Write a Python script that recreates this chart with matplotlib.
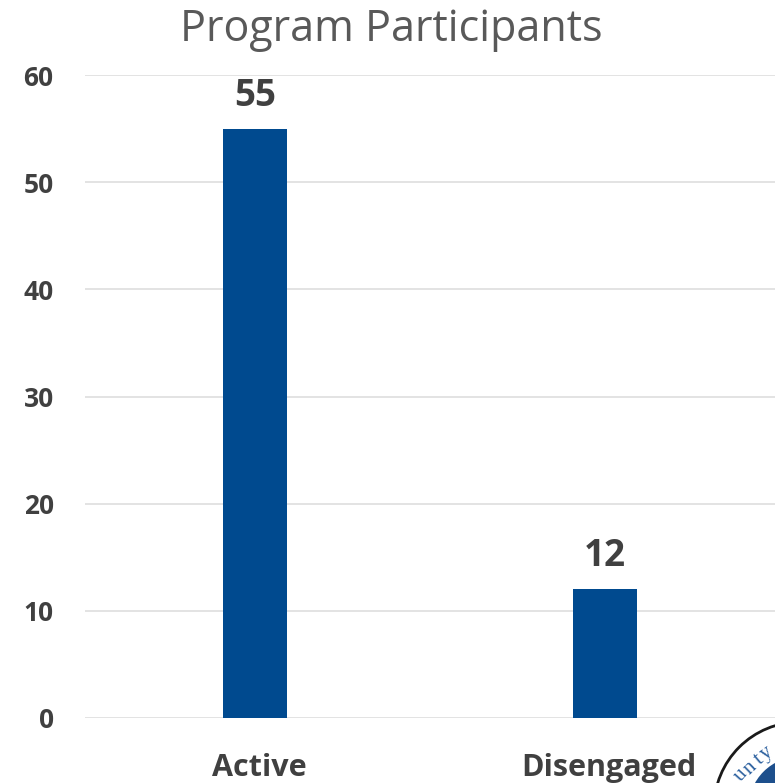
import matplotlib
matplotlib.use("Agg")
import matplotlib.pyplot as plt
from matplotlib.patches import Circle
from matplotlib.transforms import ScaledTranslation

# data
categories = ["Active", "Disengaged"]
values = [55, 12]
y_ticks = [0, 10, 20, 30, 40, 50, 60]

plt.rcParams['font.family'] = ['Open Sans', 'DejaVu Sans']

W, H = 775, 783
fig = plt.figure(figsize=(W / 100, H / 100), dpi=100)

# plot area in pixels: left 85, right 775, y=60 at 75, y=0 at 718
ax = fig.add_axes([85 / W, 1 - 718 / H, 690 / W, 643 / H])
ax.set_xlim(-0.486, 1.486)
ax.set_ylim(0, 60)

ax.yaxis.grid(True, color="#e0e0e0", linewidth=1.3)
ax.set_axisbelow(True)
ax.bar(range(len(categories)), values, width=0.183, color="#004a8f")

for i, v in enumerate(values):
    ax.text(i, v + 1.3, str(v), ha="center", va="bottom", fontsize=26.5,
            fontweight="bold", color="#404040")

for s in ax.spines.values():
    s.set_visible(False)
ax.set_yticks(y_ticks)
ax.set_xticks(range(len(categories)))
ax.set_xticklabels(categories, fontsize=22, fontweight="bold", color="#404040")
ax.tick_params(axis="both", length=0)
ax.tick_params(axis="x", pad=25)
ax.tick_params(axis="y", pad=22.5)
for t in ax.get_yticklabels():
    t.set_fontsize(19)
    t.set_fontweight("bold")
    t.set_color("#404040")
# category labels sit a little right of the bars
for t in ax.get_xticklabels():
    t.set_transform(t.get_transform() + ScaledTranslation(0.04, 0, fig.dpi_scale_trans))

fig.text(391 / W, 1 - 30 / H, "Program Participants", ha="center", va="center",
         fontsize=31, color="#595959")

# seal in the corner, clipped by the figure edge
seal = fig.add_axes([0, 0, 1, 1], facecolor="none")
seal.set_xlim(0, W)
seal.set_ylim(H, 0)
seal.axis("off")
seal.add_patch(Circle((800, 808), 86, facecolor="white", edgecolor="#1a1a1a", linewidth=2))
seal.add_patch(Circle((800, 808), 51.5, facecolor="#1d4f8c", edgecolor="none"))
for letter, x, y, rot in [("u", 741, 775, 48), ("n", 750, 768, 44), ("t", 759, 760, 40), ("y", 766, 753, 36)]:
    seal.text(x, y, letter, rotation=rot, fontsize=15, color="#2a5f9e", ha="center", va="center",
              family=["Liberation Serif", "DejaVu Serif"])

fig.savefig("out.png", dpi=100)
